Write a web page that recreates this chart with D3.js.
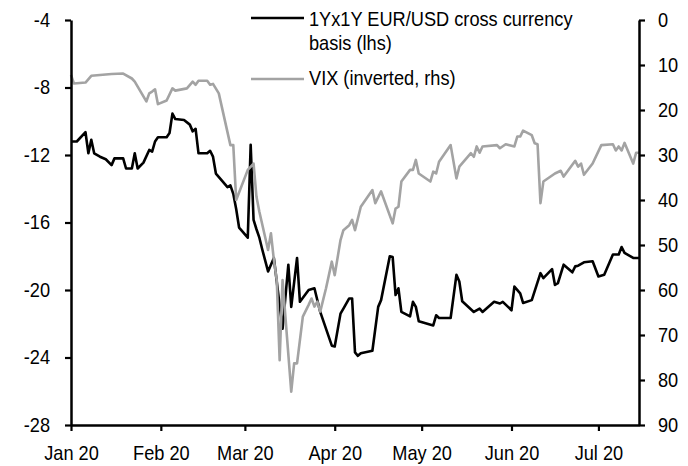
<!DOCTYPE html>
<html>
<meta charset="UTF-8">
<head>
  <style>
    body { margin: 0; background: #fff; }
    text { font-family: "Liberation Sans", Arial, sans-serif; fill: #000; }
  </style>
</head>
<script src="https://d3js.org/d3.v7.min.js"></script>
<body>
  <div id="chart"></div>
  <script>
    // 1Yx1Y EUR/USD cross currency basis (lhs)
    var basisDates = ["2020-01-01","2020-01-03","2020-01-06","2020-01-07","2020-01-08","2020-01-09","2020-01-11","2020-01-13","2020-01-15","2020-01-16",
      "2020-01-19","2020-01-20","2020-01-22","2020-01-23","2020-01-24","2020-01-26","2020-01-28","2020-01-29","2020-01-30","2020-01-31",
      "2020-02-03","2020-02-04","2020-02-05","2020-02-06","2020-02-09","2020-02-11","2020-02-12","2020-02-13","2020-02-14","2020-02-17",
      "2020-02-18","2020-02-19","2020-02-20","2020-02-22","2020-02-24","2020-02-25","2020-02-26","2020-02-27","2020-02-28","2020-03-02",
      "2020-03-03","2020-03-04","2020-03-05","2020-03-06","2020-03-07","2020-03-09","2020-03-11","2020-03-14","2020-03-16","2020-03-17",
      "2020-03-19","2020-03-20","2020-03-23","2020-03-25","2020-03-27","2020-03-31","2020-04-01","2020-04-03","2020-04-04","2020-04-06",
      "2020-04-07","2020-04-08","2020-04-09","2020-04-10","2020-04-14","2020-04-16","2020-04-17","2020-04-20","2020-04-21","2020-04-22",
      "2020-04-23","2020-04-24","2020-04-27","2020-04-28","2020-04-29","2020-04-30","2020-05-05","2020-05-06","2020-05-07","2020-05-11",
      "2020-05-13","2020-05-14","2020-05-15","2020-05-19","2020-05-21","2020-05-22","2020-05-26","2020-05-28","2020-05-29","2020-06-01",
      "2020-06-02","2020-06-04","2020-06-05","2020-06-08","2020-06-11","2020-06-12","2020-06-15","2020-06-16","2020-06-17","2020-06-19",
      "2020-06-22","2020-06-23","2020-06-24","2020-06-26","2020-06-29","2020-07-01","2020-07-03","2020-07-06","2020-07-08","2020-07-09",
      "2020-07-10","2020-07-13","2020-07-15"];
    var basisValues = [-11.2,-11.2,-10.65,-11.9,-11.1,-11.9,-12.1,-12.25,-12.6,-12.2,
      -12.2,-12.8,-12.8,-11.9,-12.8,-12.45,-11.7,-11.8,-11.2,-10.95,
      -10.95,-10.7,-9.55,-9.87,-9.93,-10.2,-10.6,-10.45,-11.9,-11.9,
      -11.75,-12.1,-13.1,-13.5,-13.9,-13.8,-14.3,-15.2,-16.3,-16.9,
      -11.4,-15.85,-16.4,-16.9,-17.6,-18.9,-18.1,-22.3,-18.5,-21.0,
      -18.1,-20.7,-20.0,-19.9,-21.3,-23.3,-23.35,-21.4,-21.1,-20.5,
      -20.5,-23.7,-23.9,-23.75,-23.6,-21.0,-20.6,-18.0,-18.05,-20.3,
      -19.9,-21.3,-21.56,-20.7,-21.0,-21.85,-22.1,-21.5,-21.66,-21.66,
      -19.1,-19.5,-20.67,-21.3,-21.1,-21.3,-20.7,-20.8,-20.7,-21.2,
      -19.8,-20.2,-20.77,-20.6,-19.0,-19.3,-18.76,-19.7,-19.6,-18.5,
      -18.95,-18.6,-18.56,-18.36,-18.3,-19.2,-19.1,-17.9,-17.9,-17.45,
      -17.8,-18.1,-18.1];

    // VIX (inverted, rhs)
    var vixDates = ["2020-01-01","2020-01-02","2020-01-06","2020-01-08","2020-01-15","2020-01-19","2020-01-22","2020-01-23","2020-01-27","2020-01-28",
      "2020-01-29","2020-01-30","2020-01-31","2020-02-03","2020-02-05","2020-02-06","2020-02-10","2020-02-12","2020-02-13","2020-02-14",
      "2020-02-17","2020-02-18","2020-02-19","2020-02-21","2020-02-25","2020-02-26","2020-02-27","2020-03-02","2020-03-04","2020-03-05",
      "2020-03-06","2020-03-09","2020-03-10","2020-03-11","2020-03-12","2020-03-13","2020-03-14","2020-03-17","2020-03-18","2020-03-19",
      "2020-03-21","2020-03-23","2020-03-24","2020-03-25","2020-03-26","2020-03-27","2020-03-29","2020-03-31","2020-04-01","2020-04-03",
      "2020-04-04","2020-04-06","2020-04-07","2020-04-08","2020-04-10","2020-04-14","2020-04-15","2020-04-17","2020-04-21","2020-04-22",
      "2020-04-23","2020-04-24","2020-04-27","2020-04-28","2020-04-29","2020-04-30","2020-05-04","2020-05-05","2020-05-06","2020-05-07",
      "2020-05-11","2020-05-13","2020-05-14","2020-05-18","2020-05-19","2020-05-20","2020-05-21","2020-05-22","2020-05-27","2020-05-28",
      "2020-05-30","2020-06-02","2020-06-03","2020-06-04","2020-06-05","2020-06-08","2020-06-09","2020-06-10","2020-06-11","2020-06-12",
      "2020-06-16","2020-06-18","2020-06-19","2020-06-23","2020-06-24","2020-06-25","2020-06-26","2020-06-29","2020-07-02","2020-07-06",
      "2020-07-07","2020-07-08","2020-07-09","2020-07-10","2020-07-13","2020-07-14","2020-07-15"];
    var vixValues = [12.2,14.1,13.9,12.4,12.0,11.9,13.0,13.7,18.1,16.3,
      15.9,15.4,18.7,17.9,15.2,15.7,15.2,13.7,14.4,13.5,
      13.5,14.4,14.2,16.3,27.8,27.8,40.0,33.3,31.9,39.3,
      42.6,51.1,47.4,53.3,57.8,75.6,57.8,82.6,76.3,76.3,
      65.9,63.3,61.9,63.7,62.6,64.8,59.6,53.7,56.7,48.9,
      46.7,45.6,44.4,46.7,41.5,37.8,40.7,38.1,45.2,41.9,
      41.5,35.9,33.3,33.3,31.1,34.1,35.9,33.7,34.1,31.5,
      27.8,35.2,32.6,29.6,30.4,28.1,29.5,28.1,27.8,28.5,
      27.6,28.1,25.9,25.9,24.6,25.6,27.4,27.6,40.7,35.9,
      34.1,33.5,34.8,31.3,32.6,31.9,34.4,31.9,27.8,27.6,
      29.0,28.1,29.0,27.3,31.9,29.5,29.5];

    var leftTicks = [-28, -24, -20, -16, -12, -8, -4];
    var rightTicks = [0, 10, 20, 30, 40, 50, 60, 70, 80, 90];
    var monthTicks = ["2020-01-01","2020-02-01","2020-03-01","2020-04-01","2020-05-01","2020-06-01","2020-07-01"];

    var legendItems = [
      { lines: ["1Yx1Y EUR/USD cross currency", "basis (lhs)"], color: "#000000" },
      { lines: ["VIX (inverted, rhs)"], color: "#a3a3a3" }
    ];

    var width = 688;
    var height = 466;
    var margin = { top: 20, right: 49, bottom: 41, left: 71 };
    var chartWidth = width - margin.left - margin.right;
    var chartHeight = height - margin.top - margin.bottom;
    var squeeze = 0.91; // the text in the reference is slightly narrow

    var parse = d3.utcParse("%Y-%m-%d");

    var basis = basisDates.map((d, i) => ({ date: parse(d), value: basisValues[i] }));
    var vix = vixDates.map((d, i) => ({ date: parse(d), value: vixValues[i] }));

    var svg = d3.select("#chart").append("svg")
      .attr("width", width)
      .attr("height", height)
      .append("g")
      .attr("transform", "translate(" + margin.left + "," + margin.top + ")");

    var xScale = d3.scaleUtc()
      .domain([parse("2020-01-01"), parse("2020-07-15")])
      .range([0, chartWidth]);

    var yLeft = d3.scaleLinear()
      .domain([-28, -4])
      .range([chartHeight, 0]);

    // inverted: 0 at the top
    var yRight = d3.scaleLinear()
      .domain([0, 90])
      .range([0, chartHeight]);

    function narrowText(g) {
      g.selectAll(".tick text").each(function () {
        var t = d3.select(this);
        var x = +t.attr("x") || 0;
        t.attr("x", 0).attr("transform", `translate(${x},0) scale(${squeeze},1)`);
      });
    }

    function styleAxis(g) {
      g.select(".domain").attr("stroke", "#000").attr("stroke-width", 2.5);
      g.selectAll(".tick line").attr("stroke", "#000").attr("stroke-width", 2.2);
      g.selectAll(".tick text").attr("font-size", 20).attr("fill", "#000")
        .attr("font-family", '"Liberation Sans", Arial, sans-serif');
    }

    // plain hyphen for negatives, like the original
    var plainNumber = d => String(d);

    // lines
    var basisLine = d3.line()
      .x(d => xScale(d.date))
      .y(d => yLeft(d.value));

    var vixLine = d3.line()
      .x(d => xScale(d.date))
      .y(d => yRight(d.value));

    svg.append("path")
      .datum(basis)
      .attr("fill", "none")
      .attr("stroke", legendItems[0].color)
      .attr("stroke-width", 2.6)
      .attr("stroke-linejoin", "round")
      .attr("d", basisLine);

    svg.append("path")
      .datum(vix)
      .attr("fill", "none")
      .attr("stroke", legendItems[1].color)
      .attr("stroke-width", 2.6)
      .attr("stroke-linejoin", "round")
      .attr("d", vixLine);

    // axes
    svg.append("g")
      .attr("class", "y axis left")
      .call(d3.axisLeft(yLeft).tickValues(leftTicks).tickFormat(plainNumber)
        .tickSize(6).tickSizeOuter(0).tickPadding(15))
      .call(styleAxis)
      .call(narrowText);

    svg.append("g")
      .attr("class", "y axis right")
      .attr("transform", `translate(${chartWidth},0)`)
      .call(d3.axisRight(yRight).tickValues(rightTicks).tickFormat(plainNumber)
        .tickSize(6).tickSizeOuter(0).tickPadding(13))
      .call(styleAxis)
      .call(narrowText);

    svg.append("g")
      .attr("class", "x axis")
      .attr("transform", `translate(0,${chartHeight})`)
      .call(d3.axisBottom(xScale)
        .tickValues(monthTicks.map(parse))
        .tickFormat(d3.utcFormat("%b %y"))
        .tickSize(6).tickSizeOuter(0).tickPadding(15))
      .call(styleAxis)
      .call(narrowText);

    // legend
    var legend = svg.append("g")
      .attr("transform", "translate(" + (-margin.left) + "," + (-margin.top) + ")");

    var legendRows = [18, 79];
    var textBaselines = [[25.5, 50], [85]];

    legendItems.forEach((item, i) => {
      legend.append("line")
        .attr("x1", 251)
        .attr("x2", 304)
        .attr("y1", legendRows[i])
        .attr("y2", legendRows[i])
        .attr("stroke", item.color)
        .attr("stroke-width", 2.6);

      item.lines.forEach((s, j) => {
        legend.append("text")
          .attr("transform", `translate(309,${textBaselines[i][j]}) scale(${squeeze},1)`)
          .attr("font-size", 20)
          .text(s);
      });
    });
  </script>
</body>
</html>
